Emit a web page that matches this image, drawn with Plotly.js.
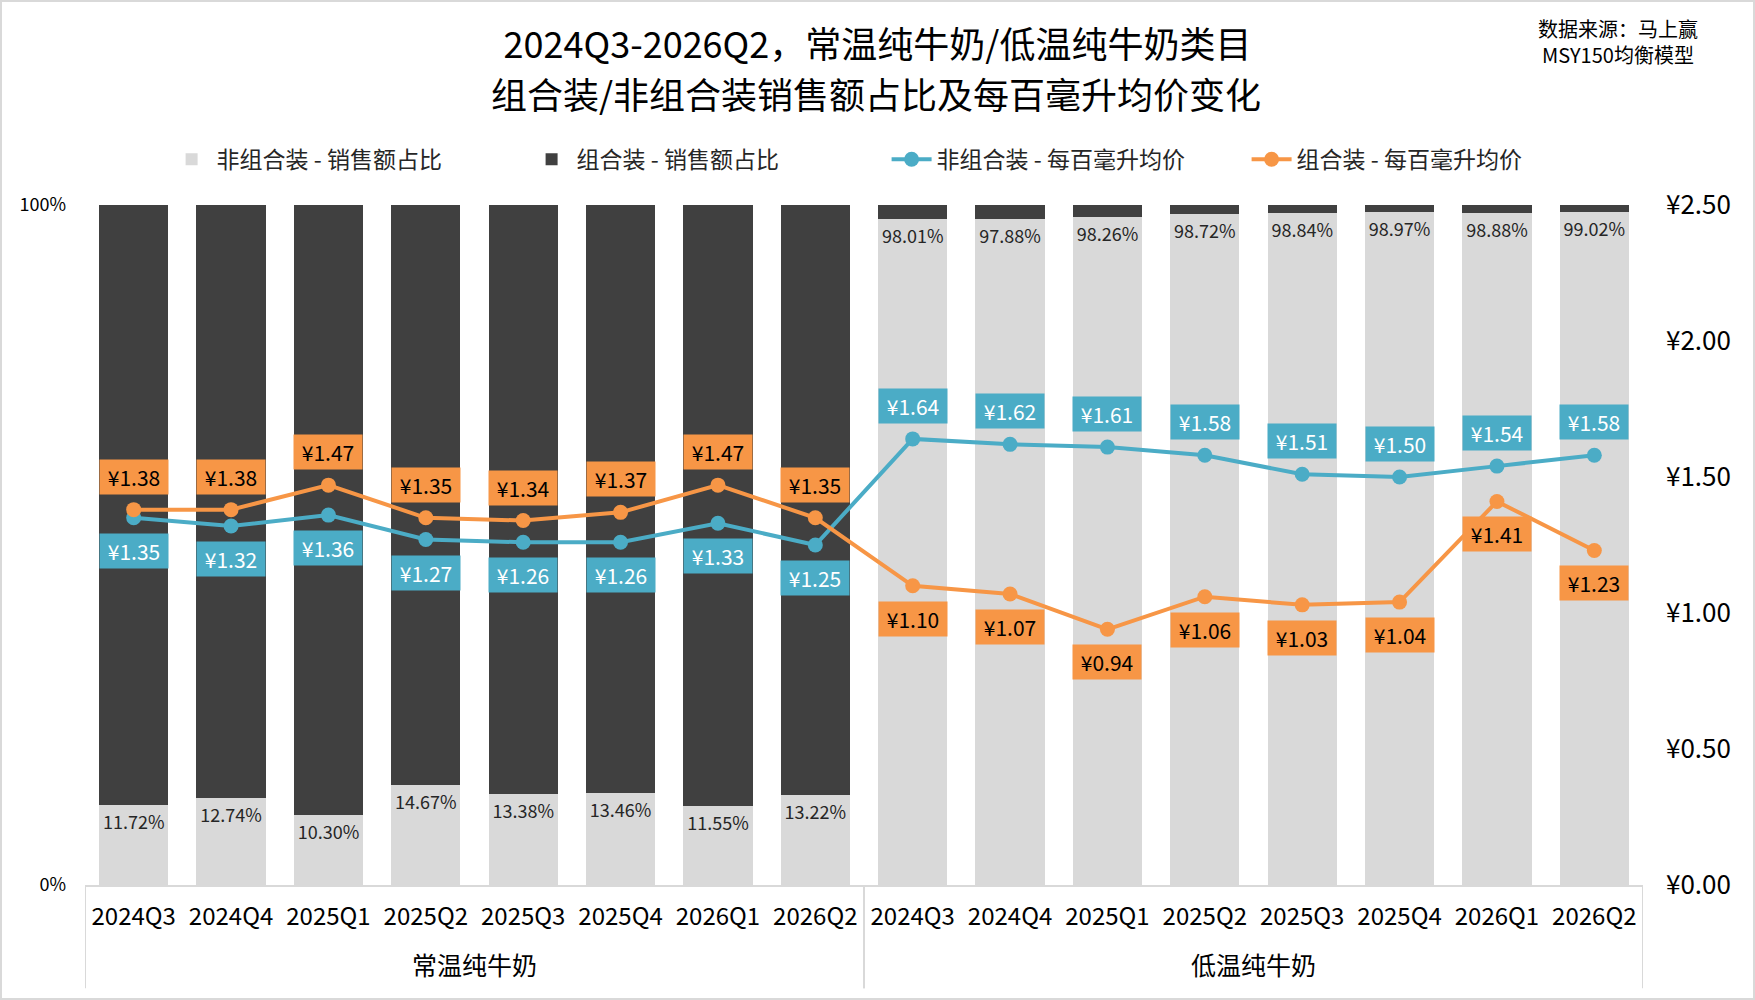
<!DOCTYPE html>
<html>
<head>
<meta charset="utf-8">
<script src="https://cdn.plot.ly/plotly-3.0.1.min.js"></script>
<style>
  html, body { margin: 0; padding: 0; background: #fff; }
  #chart { width: 1755px; height: 1000px; box-sizing: border-box; border: 2px solid #d9d9d9; }
</style>
</head>
<body>
<div id="chart"></div>
<script>
// categories
var groupNames = ['常温纯牛奶', '低温纯牛奶'];
var groups = ['常温纯牛奶', '常温纯牛奶', '常温纯牛奶', '常温纯牛奶', '常温纯牛奶', '常温纯牛奶', '常温纯牛奶', '常温纯牛奶',
              '低温纯牛奶', '低温纯牛奶', '低温纯牛奶', '低温纯牛奶', '低温纯牛奶', '低温纯牛奶', '低温纯牛奶', '低温纯牛奶'];
var quarters = ['2024Q3', '2024Q4', '2025Q1', '2025Q2', '2025Q3', '2025Q4', '2026Q1', '2026Q2',
                '2024Q3', '2024Q4', '2025Q1', '2025Q2', '2025Q3', '2025Q4', '2026Q1', '2026Q2'];

// 非组合装 销售额占比 (%)
var singleShare = [11.72, 12.74, 10.30, 14.67, 13.38, 13.46, 11.55, 13.22,
                   98.01, 97.88, 98.26, 98.72, 98.84, 98.97, 98.88, 99.02];
// 组合装 销售额占比 = 100 - 非组合装
var comboShare = singleShare.map(function (v) { return +(100 - v).toFixed(2); });

// 每百毫升均价 (元)
var singlePrice = [1.35, 1.32, 1.36, 1.27, 1.26, 1.26, 1.33, 1.25,
                   1.64, 1.62, 1.61, 1.58, 1.51, 1.50, 1.54, 1.58];
var comboPrice = [1.38, 1.38, 1.47, 1.35, 1.34, 1.37, 1.47, 1.35,
                  1.10, 1.07, 0.94, 1.06, 1.03, 1.04, 1.41, 1.23];

var GRAY = '#d9d9d9', DARK = '#404040', BLUE = '#4bacc6', ORANGE = '#f79646';
var CJK = '"Noto Sans CJK SC", sans-serif';

// one slot per bar; the two groups share the quarter names
var x = quarters.map(function (q, i) { return i; });

var data = [
  {
    type: 'bar', name: '非组合装 - 销售额占比', x: x, y: singleShare.map(function (v) { return v / 100; }),
    marker: { color: GRAY },
    text: singleShare.map(function (v) { return v.toFixed(2) + '%'; }),
    textposition: 'inside', insidetextanchor: 'end', textangle: 0, constraintext: 'none',
    textfont: { family: CJK, size: 18, color: '#262626' },
    hoverinfo: 'skip'
  },
  {
    type: 'bar', name: '组合装 - 销售额占比', x: x, y: comboShare.map(function (v) { return v / 100; }),
    marker: { color: DARK }, hoverinfo: 'skip'
  },
  {
    type: 'scatter', mode: 'lines+markers', name: '非组合装 - 每百毫升均价', x: x, y: singlePrice, yaxis: 'y2',
    line: { color: BLUE, width: 4 }, marker: { color: BLUE, size: 15 }
  },
  {
    type: 'scatter', mode: 'lines+markers', name: '组合装 - 每百毫升均价', x: x, y: comboPrice, yaxis: 'y2',
    line: { color: ORANGE, width: 4 }, marker: { color: ORANGE, size: 15 }
  }
];

// boxed price labels: higher series above point, lower below
var annotations = [];
for (var i = 0; i < quarters.length; i++) {
  var sUp = singlePrice[i] > comboPrice[i];
  annotations.push({
    xref: 'x', yref: 'y2', x: x[i], y: singlePrice[i], yshift: sUp ? 33 : -33,
    text: '¥' + singlePrice[i].toFixed(2), showarrow: false,
    bgcolor: BLUE, width: 66, height: 32, font: { family: CJK, size: 21, color: '#ffffff' }
  });
  annotations.push({
    xref: 'x', yref: 'y2', x: x[i], y: comboPrice[i], yshift: sUp ? -33 : 33,
    text: '¥' + comboPrice[i].toFixed(2), showarrow: false,
    bgcolor: ORANGE, width: 66, height: 32, font: { family: CJK, size: 21, color: '#000000' }
  });
}

// group labels under the quarters + divider lines at group edges
var shapes = [];
groupNames.forEach(function (g) {
  var idx = x.filter(function (k) { return groups[k] === g; });
  var first = idx[0], last = idx[idx.length - 1];
  annotations.push({
    xref: 'x', yref: 'paper', x: (first + last) / 2, y: -0.116, yanchor: 'middle',
    text: g, showarrow: false, font: { family: CJK, size: 25, color: '#000' }
  });
  [first - 0.5, last + 0.5].forEach(function (edge) {
    shapes.push({
      type: 'line', xref: 'x', yref: 'paper', x0: edge, x1: edge, y0: 0, y1: -0.152,
      line: { color: GRAY, width: 2 }
    });
  });
});

// second title line
annotations.push({
  xref: 'paper', yref: 'paper', x: 0.508, y: 1.165, xanchor: 'center', yanchor: 'middle',
  text: '组合装/非组合装销售额占比及每百毫升均价变化', showarrow: false,
  font: { family: CJK, size: 36, color: '#000' }
});
// source note
annotations.push({
  xref: 'paper', yref: 'paper', x: 0.984, y: 1.241, xanchor: 'center', yanchor: 'middle',
  text: '数据来源：马上赢<br>MSY150均衡模型', showarrow: false,
  font: { family: CJK, size: 20, color: '#000' }
});

var layout = {
  width: 1751, height: 996,
  margin: { l: 83, r: 110, t: 203, b: 113 },
  paper_bgcolor: '#fff', plot_bgcolor: '#fff',
  font: { family: CJK, color: '#000' },
  title: {
    text: '2024Q3-2026Q2，常温纯牛奶/低温纯牛奶类目',
    x: 0.5, xref: 'container', y: 0.956, yref: 'container', yanchor: 'middle',
    font: { family: CJK, size: 36, color: '#000' }
  },
  barmode: 'stack', bargap: 0.29,
  showlegend: true,
  legend: {
    orientation: 'h', xref: 'container', yref: 'container',
    x: 0.094, xanchor: 'left', y: 0.842, yanchor: 'middle',
    font: { family: CJK, size: 23, color: '#262626' }, traceorder: 'normal',
    entrywidth: 305, itemwidth: 40
  },
  xaxis: {
    range: [-0.5, 15.5], autorange: false, automargin: false,
    tickvals: x, ticktext: quarters, tickangle: 0,
    tickfont: { family: CJK, size: 24, color: '#000' }, ticklabelstandoff: 9,
    showline: true, linecolor: GRAY, linewidth: 2,
    ticks: '', showgrid: false, zeroline: false
  },
  yaxis: {
    range: [0, 1], tickvals: [0, 1], ticktext: ['0%', '100%'], automargin: false,
    tickfont: { family: CJK, size: 18, color: '#000' }, ticklabelstandoff: 18,
    showgrid: true, gridcolor: GRAY, gridwidth: 2, zeroline: false, ticks: ''
  },
  yaxis2: {
    overlaying: 'y', side: 'right', range: [0, 2.5], dtick: 0.5, tickprefix: '¥', tickformat: '.2f',
    automargin: false, tickfont: { family: CJK, size: 26, color: '#000' }, ticklabelstandoff: 22,
    showgrid: false, zeroline: false, ticks: ''
  },
  shapes: shapes,
  annotations: annotations
};

Plotly.newPlot('chart', data, layout, { displayModeBar: false, staticPlot: true });
</script>
</body>
</html>
